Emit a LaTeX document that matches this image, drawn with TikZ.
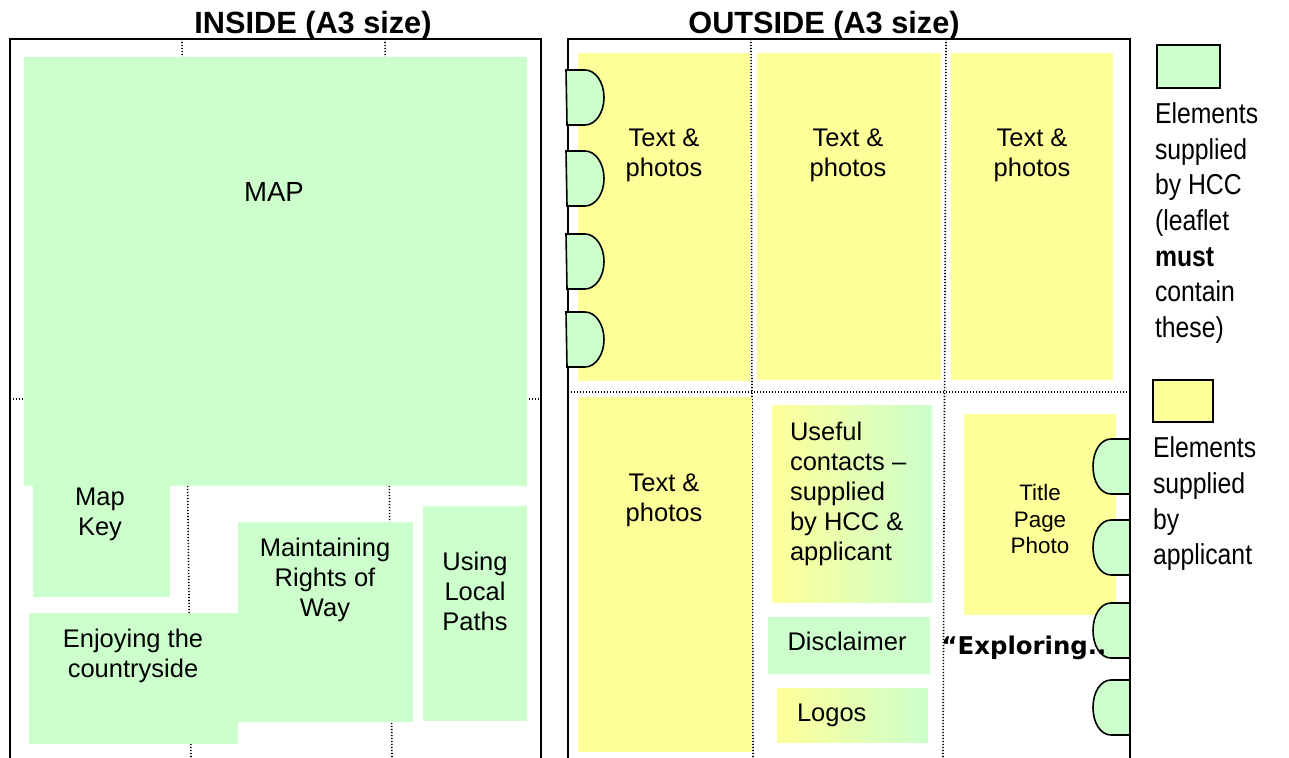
\documentclass[tikz,border=0pt]{standalone}
\usepackage{fontspec}
\setmainfont{Liberation Sans}
\newfontfamily\keyfont[FakeStretch=0.86]{Liberation Sans}
\newfontfamily\comicfont{DejaVu Sans}
\usepackage{xcolor}
\usetikzlibrary{shapes,arrows,positioning,calc}
\definecolor{hccgreen}{RGB}{204,255,204}
\definecolor{appyellow}{RGB}{255,255,153}

\begin{document}
\begin{tikzpicture}[x=0.5pt,y=-0.5pt,every node/.style={outer sep=0pt,inner sep=0pt}]
\tikzstyle{hcc}=[fill=hccgreen,draw=none]
\tikzstyle{app}=[fill=appyellow,draw=none]
\tikzstyle{both}=[left color=appyellow,right color=hccgreen,draw=none]
\tikzstyle{fold}=[line width=0.8pt,dash pattern=on 0.6pt off 0.9pt]
\tikzstyle{sheet}=[line width=0.9pt]
\tikzstyle{tab}=[fill=hccgreen,draw=black,line width=0.8pt]
\tikzstyle{lbl}=[font=\fontsize{12.75}{15}\selectfont,align=center]
\tikzstyle{key}=[font=\keyfont\fontsize{14.4}{17.85}\selectfont,align=left,anchor=west]
\tikzstyle{head}=[font=\bfseries\fontsize{15.35}{18}\selectfont,anchor=base]
\useasboundingbox[fill=white] (0,0) rectangle (1289,758);
% fold lines
\draw[fold] (182,39) -- (191,758);
\draw[fold] (385,39) -- (392,758);
\draw[fold] (10,399) -- (541,399);
\draw[fold] (751,39) -- (753,758);
\draw[fold] (946,39) -- (943,758);
\draw[fold] (568,392) -- (1130,392);
% inside
\path[hcc] (24,57) rectangle (527,486);
\path[hcc] (33,486) rectangle (170,597);
\path[hcc] (29,613) rectangle (238,744);
\path[hcc] (238,522) rectangle (413,722);
\path[hcc] (423,506) rectangle (527,721);
% outside
\path[app] (578,53) rectangle (750,381);
\path[app] (757,53) rectangle (941,380);
\path[app] (951,53) rectangle (1113,380);
\path[app] (578,397) rectangle (752,752);
\path[both] (772,406) rectangle (932,602);
\path[hcc] (768,617) rectangle (930,674);
\path[both] (777,688) rectangle (928,742);
\path[app] (964,414) rectangle (1116,615);
% sheets
\draw[sheet] (10,758) -- (10,39) -- (541,39) -- (541,758);
\draw[sheet] (568,758) -- (568,39) -- (1130,39) -- (1130,758);
% binding tabs
\foreach \t in {70,151,234,312}
  \draw[tab] (566,\t) -- (585,\t) .. controls (595.5,\t) and (604,\t+12.3) .. (604,\t+27.5)
    .. controls (604,\t+42.7) and (595.5,\t+55) .. (585,\t+55) -- (567,\t+55) -- cycle;
\foreach \t in {439,520,603,680}
  \draw[tab] (1130,\t) -- (1111,\t) .. controls (1100.5,\t) and (1093,\t+12.3) .. (1093,\t+27.5)
    .. controls (1093,\t+42.7) and (1100.5,\t+55) .. (1111,\t+55) -- (1130,\t+55) -- cycle;
% headings
\node[head] (inside) at (313,34) {INSIDE (A3 size)};
\node[head] (outside) at (824,34) {OUTSIDE (A3 size)};
% labels
\node[lbl,font=\fontsize{13.8}{15}\selectfont] (map) at (274,192) {MAP};
\node[lbl] (mapkey) at (100,514) {Map\\Key};
\node[lbl] (enjoy) at (133,656) {Enjoying the\\countryside};
\node[lbl] (maintain) at (325,580) {Maintaining\\Rights of\\Way};
\node[lbl] (using) at (475,591) {Using\\Local\\Paths};
\node[lbl] (photosa) at (664,155) {Text \&\\photos};
\node[lbl] (photosb) at (848,155) {Text \&\\photos};
\node[lbl] (photosc) at (1032,155) {Text \&\\photos};
\node[lbl] (photosd) at (664,500) {Text \&\\photos};
\node[lbl,align=left,anchor=west] (useful) at (790,494) {Useful\\contacts --\\supplied\\by HCC \&\\applicant};
\node[lbl] (disclaimer) at (847,641) {Disclaimer};
\node[lbl,anchor=west] (logos) at (797,715) {Logos};
\node[lbl,font=\fontsize{11.2}{13.3}\selectfont] (title) at (1040,519) {Title\\Page\\Photo};
\node[font=\comicfont\bfseries\fontsize{12.2}{14}\selectfont] (exploring) at (1024,648) {“Exploring..};
% key
\draw[hcc,draw=black,line width=0.8pt] (1157,45) rectangle (1220,88);
\node[key] (hcckey) at (1155,223) {Elements\\supplied\\by HCC\\(leaflet\\\textbf{must}\\contain\\these)};
\draw[app,draw=black,line width=0.8pt] (1153,380) rectangle (1213,422);
\node[key] (appkey) at (1153,504) {Elements\\supplied\\by\\applicant};
\end{tikzpicture}
\end{document}
